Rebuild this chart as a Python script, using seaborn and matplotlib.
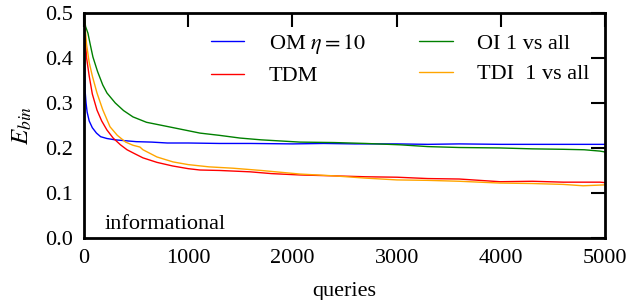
import matplotlib
matplotlib.use("Agg")
import matplotlib.pyplot as plt
import seaborn as sns
import pandas as pd

# ---- data ----
om_x = [0, 5, 10, 20, 30, 50, 80, 120, 160, 220, 300, 400, 500, 650, 800, 1000, 1300, 1600, 2000, 2300, 2600, 3000, 3300, 3600, 4000, 4300, 4600, 5000]
om_y = [0.50, 0.40, 0.33, 0.30, 0.28, 0.26, 0.245, 0.233, 0.225, 0.221, 0.218, 0.216, 0.214, 0.213, 0.211, 0.211, 0.210, 0.210, 0.209, 0.210, 0.209, 0.209, 0.208, 0.209, 0.208, 0.208, 0.208, 0.208]

tdm_x = [0, 10, 25, 50, 80, 125, 170, 220, 280, 350, 413, 480, 566, 700, 850, 1000, 1113, 1300, 1593, 1800, 2073, 2400, 2700, 3003, 3300, 3600, 3992, 4300, 4600, 4952, 5000]
tdm_y = [0.50, 0.45, 0.40, 0.36, 0.32, 0.284, 0.26, 0.24, 0.222, 0.207, 0.196, 0.188, 0.178, 0.168, 0.160, 0.154, 0.151, 0.150, 0.147, 0.143, 0.140, 0.138, 0.136, 0.135, 0.132, 0.131, 0.125, 0.126, 0.124, 0.124, 0.123]

oi_x = [0, 15, 38, 60, 86, 130, 180, 221, 300, 380, 470, 600, 729, 900, 1113, 1300, 1497, 1700, 2073, 2400, 2700, 3032, 3300, 3600, 3992, 4300, 4600, 4800, 4952, 5000]
oi_y = [0.50, 0.47, 0.455, 0.43, 0.402, 0.37, 0.34, 0.322, 0.30, 0.283, 0.269, 0.257, 0.251, 0.243, 0.233, 0.228, 0.222, 0.218, 0.213, 0.212, 0.210, 0.207, 0.203, 0.201, 0.200, 0.198, 0.197, 0.196, 0.193, 0.191]

tdi_x = [0, 10, 25, 50, 80, 125, 180, 250, 320, 400, 470, 537, 566, 700, 854, 1000, 1200, 1430, 1700, 2073, 2400, 2700, 3003, 3300, 3600, 3992, 4300, 4600, 4789, 5000]
tdi_y = [0.50, 0.47, 0.43, 0.39, 0.36, 0.322, 0.285, 0.247, 0.228, 0.213, 0.206, 0.202, 0.196, 0.180, 0.169, 0.163, 0.158, 0.155, 0.150, 0.142, 0.138, 0.133, 0.129, 0.128, 0.126, 0.122, 0.121, 0.119, 0.116, 0.118]

labels = [r"OM $\eta = 10$", "TDM", "OI 1 vs all", "TDI  1 vs all"]
colors = ["#0000ff", "#ff0000", "#008000", "#ffa500"]

frames = []
for lab, xs, ys in zip(labels, [om_x, tdm_x, oi_x, tdi_x], [om_y, tdm_y, oi_y, tdi_y]):
    frames.append(pd.DataFrame({"queries": xs, "E": ys, "series": lab}))
df = pd.concat(frames, ignore_index=True)

sns.set_style("white")
plt.rcParams["font.family"] = ["Liberation Serif", "DejaVu Serif"]
plt.rcParams["mathtext.fontset"] = "stix"
plt.rcParams["text.color"] = "black"
plt.rcParams["axes.labelcolor"] = "black"
plt.rcParams["xtick.color"] = "black"
plt.rcParams["ytick.color"] = "black"

fig = plt.figure(figsize=(6.29, 3.0), dpi=100)
ax = fig.add_axes([0.1335, 0.2067, 0.8285, 0.7503])

sns.lineplot(data=df, x="queries", y="E", hue="series", hue_order=labels,
             palette=colors, linewidth=1.0, ax=ax, estimator=None, sort=False)

ax.set_xlim(0, 5000)
ax.set_ylim(0, 0.5)
ax.set_xticks([0, 1000, 2000, 3000, 4000, 5000])
ax.set_yticks([0.0, 0.1, 0.2, 0.3, 0.4, 0.5])
ax.set_yticklabels(["0.0", "0.1", "0.2", "0.3", "0.4", "0.5"])
ax.tick_params(direction="in", length=10, width=1.5, top=True, right=True,
               labelsize=16, pad=8, color="black", labelcolor="black")
for s in ax.spines.values():
    s.set_linewidth(2.0)
    s.set_color("black")
    s.set_visible(True)

ax.set_xlabel("queries", fontsize=16, labelpad=10, color="black")
ax.set_ylabel(r"$E_{bin}$", fontsize=18, labelpad=8, color="black")

ax.text(200, 0.008, "informational", fontsize=16, ha="left", va="bottom", color="black")

handles, labs = ax.get_legend_handles_labels()
leg = ax.legend(handles, labs, ncol=2, loc="upper right", frameon=False, fontsize=16,
                handlelength=1.5, columnspacing=2.4, handletextpad=1.1,
                labelspacing=0.45, borderaxespad=0.3, bbox_to_anchor=(1.0, 0.985))
for t in leg.get_texts():
    t.set_color("black")

fig.savefig("out.png", dpi=100)
